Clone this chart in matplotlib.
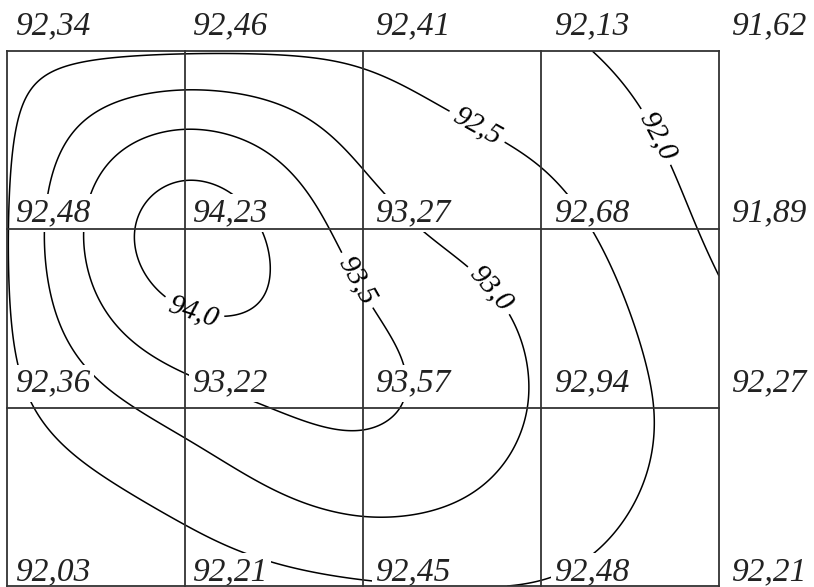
import numpy as np
import matplotlib
matplotlib.use("Agg")
import matplotlib.pyplot as plt

# measured values at grid nodes (rows top -> bottom, cols left -> right)
cols = [0, 1, 2, 3, 4]
rows = [0, 1, 2, 3]
values = [
    [92.34, 92.46, 92.41, 92.13, 91.62],
    [92.48, 94.23, 93.27, 92.68, 91.89],
    [92.36, 93.22, 93.57, 92.94, 92.27],
    [92.03, 92.21, 92.45, 92.48, 92.21],
]
levels = [92.0, 92.5, 93.0, 93.5, 94.0]
label_spots = [(3.61, 0.50), (2.66, 0.39), (2.71, 1.34), (1.87, 1.34), (1.05, 1.45)]

plt.rcParams['font.family'] = ['Liberation Serif', 'DejaVu Serif']
plt.rcParams['font.style'] = 'italic'


def natural_spline(xk, yk, xnew):
    xk = np.asarray(xk, float)
    yk = np.asarray(yk, float)
    n = len(xk)
    h = np.diff(xk)
    A = np.zeros((n, n))
    b = np.zeros(n)
    A[0, 0] = A[-1, -1] = 1
    for i in range(1, n - 1):
        A[i, i - 1] = h[i - 1]
        A[i, i] = 2 * (h[i - 1] + h[i])
        A[i, i + 1] = h[i]
        b[i] = 3 * ((yk[i + 1] - yk[i]) / h[i] - (yk[i] - yk[i - 1]) / h[i - 1])
    c = np.linalg.solve(A, b)
    idx = np.clip(np.searchsorted(xk, xnew) - 1, 0, n - 2)
    dx = xnew - xk[idx]
    bc = (yk[idx + 1] - yk[idx]) / h[idx] - h[idx] * (2 * c[idx] + c[idx + 1]) / 3
    d = (c[idx + 1] - c[idx]) / (3 * h[idx])
    return yk[idx] + bc * dx + c[idx] * dx ** 2 + d * dx ** 3


# smooth surface through the nodes (tensor natural cubic spline)
xs = np.linspace(cols[0], cols[-1], 401)
ys = np.linspace(rows[0], rows[-1], 301)
tmp = np.array([natural_spline(cols, r, xs) for r in values])
Z = np.array([natural_spline(rows, tmp[:, j], ys) for j in range(len(xs))]).T
X, Y = np.meshgrid(xs, ys)

fig = plt.figure(figsize=(8.14, 5.87), dpi=100)
ax = fig.add_axes([7 / 814, 1 / 587, 712 / 814, 535 / 587])
ax.set_xlim(cols[0], cols[-1])
ax.set_ylim(rows[-1], rows[0])
ax.axis('off')

# grid on top of the label boxes
for c in cols:
    ax.plot([c, c], [rows[0], rows[-1]], color='#333333', lw=1.3, clip_on=False, zorder=4)
for r in rows:
    ax.plot([cols[0], cols[-1]], [r, r], color='#333333', lw=1.3, clip_on=False, zorder=4)

cs = ax.contour(X, Y, Z, levels=levels, colors='black', linewidths=1.1, zorder=2)
lbls = ax.clabel(cs, inline=True, fontsize=21, inline_spacing=6,
                 fmt=lambda v: f"{v:.1f}".replace('.', ','), manual=label_spots)
for t in lbls:
    t.set_fontstyle('italic')

# node values
col_dx = [8, 7, 12, 13, 12]
row_dy = [17, 8, 16, 6]
for i, r in enumerate(rows):
    for j, c in enumerate(cols):
        ax.annotate(f"{values[i][j]:.2f}".replace('.', ','), xy=(c, r),
                    xytext=(col_dx[j] * 0.72, row_dy[i] * 0.72), textcoords='offset points',
                    ha='left', va='baseline', fontsize=24, color='#222222',
                    annotation_clip=False, zorder=3,
                    bbox=dict(boxstyle='square,pad=0.1', fc='white', ec='none'))

plt.savefig("out.png", dpi=100)
